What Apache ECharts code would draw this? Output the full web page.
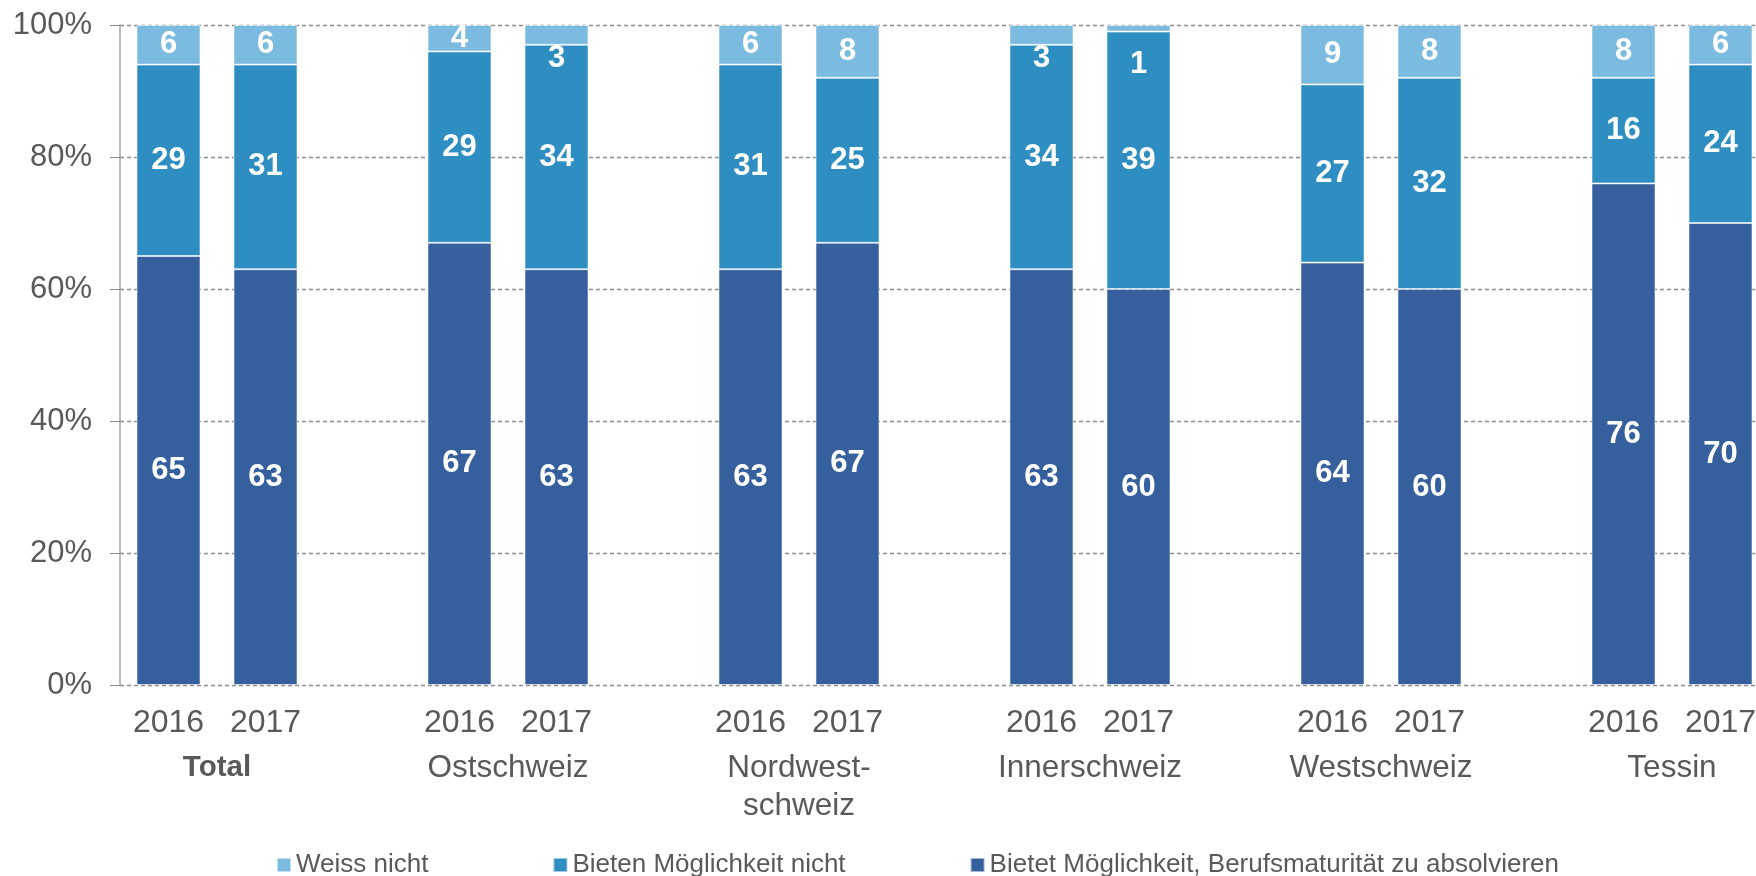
<!DOCTYPE html>
<html>
<head>
<meta charset="utf-8">
<script src="https://cdn.jsdelivr.net/npm/echarts@6/dist/echarts.min.js"></script>
<style>
  html, body { margin: 0; padding: 0; background: #fff; }
  #chart { width: 1756px; height: 876px; }
</style>
</head>
<body>
<div id="chart"></div>
<script>
// Werte pro Region: 2016, 2017
const years = ['2016', '2017']
const regions = ['Total', 'Ostschweiz', 'Nordwest-\nschweiz', 'Innerschweiz', 'Westschweiz', 'Tessin']
const bietet = [65, 63, 67, 63, 63, 67, 63, 60, 64, 60, 76, 70]
const bietenNicht = [29, 31, 29, 34, 31, 25, 34, 39, 27, 32, 16, 24]
const weissNicht = [6, 6, 4, 3, 6, 8, 3, 1, 9, 8, 8, 6]
const yTicks = [0, 20, 40, 60, 80, 100]

const seriesNames = ['Bietet Möglichkeit, Berufsmaturität zu absolvieren', 'Bieten Möglichkeit nicht', 'Weiss nicht']
const colors = ['#36609d', '#2e8ec2', '#7cbbe0']
const textColor = '#595959'
const font = 'Arial, "Liberation Sans", sans-serif'

// zwischen den Regionen bleibt ein leerer Platz
const slots = []
const slotIndex = []
regions.forEach((r, g) => {
    years.forEach((y) => {
        slotIndex.push(slots.length)
        slots.push(y)
    })
    if (g < regions.length - 1) slots.push('')
})

const toSlots = (values, smallLabels) => {
    const out = slots.map(() => '-')
    values.forEach((v, i) => {
        const item = { value: v }
        if (smallLabels && v < 4) {
            // kleine Segmente: Beschriftung unterhalb
            item.label = { position: ['50%', v === 1 ? 39 : 33], align: 'center', verticalAlign: 'middle' }
        }
        out[slotIndex[i]] = item
    })
    return out
}

const chart = echarts.init(document.getElementById('chart'))

const makeSeries = (name, values, color, small) => ({
    name: name,
    type: 'bar',
    stack: 'total',
    barWidth: '66%',
    xAxisIndex: 0,
    yAxisIndex: 0,
    data: toSlots(values, small),
    itemStyle: { color: color, borderColor: 'rgba(255,255,255,0.55)', borderWidth: 1 },
    label: {
        show: true,
        position: 'inside',
        color: '#fff',
        fontWeight: 'bold',
        fontSize: 31,
        fontFamily: font
    },
    emphasis: { disabled: true }
})

const option = {
    animation: false,
    textStyle: { fontFamily: font },
    grid: [
        { left: 120, top: 25, width: slots.length * 97, height: 660, outerBoundsMode: 'none' },
        { left: 71.5, top: 25, width: regions.length * 291, height: 660, outerBoundsMode: 'none' }
    ],
    legend: {
        data: [seriesNames[2], seriesNames[1], seriesNames[0]],
        left: 271,
        top: 847,
        icon: 'rect',
        itemWidth: 14,
        itemHeight: 14,
        itemGap: 124,
        textStyle: { color: textColor, fontSize: 26, fontFamily: font }
    },
    xAxis: [
        {
            type: 'category',
            gridIndex: 0,
            data: slots,
            axisLine: { show: false },
            axisTick: { show: false },
            axisLabel: { color: textColor, fontSize: 32, margin: 22, interval: 0, fontFamily: font }
        },
        {
            type: 'category',
            gridIndex: 1,
            position: 'bottom',
            data: regions,
            axisLine: { show: false },
            axisTick: { show: false },
            splitLine: { show: false },
            axisLabel: {
                color: textColor,
                fontSize: 31.5,
                lineHeight: 38,
                margin: 64,
                interval: 0,
                fontFamily: font,
                formatter: (v) => v === 'Total' ? '{b|Total}' : v,
                rich: {
                    b: { fontWeight: 'bold', fontSize: 29.5, lineHeight: 38, color: textColor, fontFamily: font }
                }
            }
        }
    ],
    yAxis: [
        {
            type: 'value',
            gridIndex: 0,
            min: yTicks[0],
            max: yTicks[yTicks.length - 1],
            interval: 20,
            axisLine: { show: true, lineStyle: { color: '#a6a6a6', width: 1.5 } },
            axisTick: { show: true, length: 10, lineStyle: { color: '#8c8c8c' } },
            axisLabel: { color: textColor, fontSize: 31, margin: 28, formatter: '{value}%', fontFamily: font },
            splitLine: { show: true, lineStyle: { color: '#8c8c8c', type: [4, 3], width: 1.3 } }
        },
        { type: 'value', gridIndex: 1, show: false }
    ],
    series: [
        makeSeries(seriesNames[0], bietet, colors[0], false),
        makeSeries(seriesNames[1], bietenNicht, colors[1], false),
        makeSeries(seriesNames[2], weissNicht, colors[2], true)
    ]
}

chart.setOption(option)
window.addEventListener('resize', () => chart.resize())
</script>
</body>
</html>
